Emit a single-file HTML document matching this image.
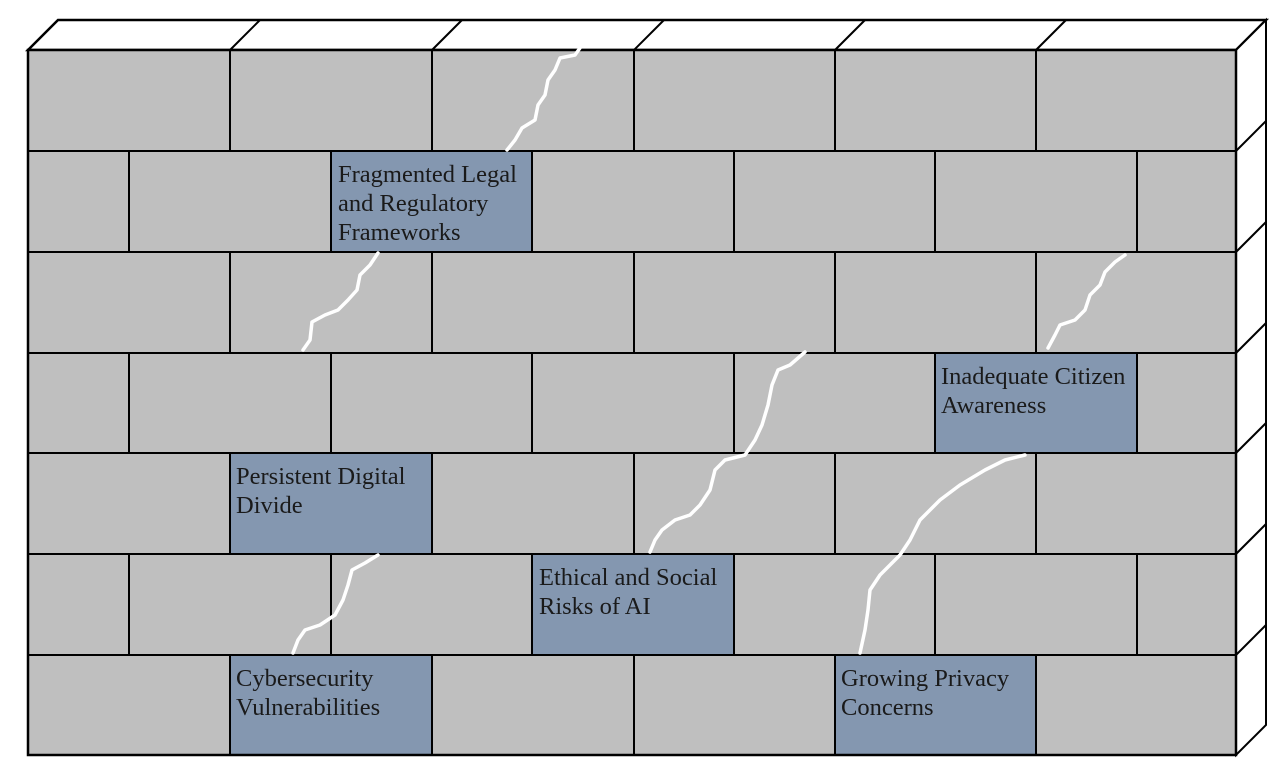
<!DOCTYPE html>
<html><head><meta charset="utf-8"><style>
html,body{margin:0;padding:0;background:#fff;}
svg{display:block;}
text{font-family:"Liberation Serif",serif;font-size:24.5px;fill:#1a1a1a;}
</style></head><body>
<svg width="1287" height="774" viewBox="0 0 1287 774" xmlns="http://www.w3.org/2000/svg">
<polygon points="28,50 58,20 1266,20 1236,50" fill="#fff" stroke="#000" stroke-width="2.5"/>
<g stroke="#000" stroke-width="2">
<line x1="230" y1="50" x2="260" y2="20"/><line x1="432" y1="50" x2="462" y2="20"/>
<line x1="634" y1="50" x2="664" y2="20"/><line x1="835" y1="50" x2="865" y2="20"/>
<line x1="1036" y1="50" x2="1066" y2="20"/>
</g>
<polygon points="1236,50 1266,20 1266,725 1236,755" fill="#fff" stroke="#000" stroke-width="2"/>
<g stroke="#000" stroke-width="2">
<line x1="1236" y1="151" x2="1266" y2="121"/><line x1="1236" y1="252" x2="1266" y2="222"/>
<line x1="1236" y1="353" x2="1266" y2="323"/><line x1="1236" y1="453" x2="1266" y2="423"/>
<line x1="1236" y1="554" x2="1266" y2="524"/><line x1="1236" y1="655" x2="1266" y2="625"/>
</g>
<rect x="28" y="50" width="1208" height="705" fill="#bfbfbf"/>
<g fill="#8497b0">
<rect x="331" y="151" width="201" height="101"/>
<rect x="935" y="353" width="202" height="100"/>
<rect x="230" y="453" width="202" height="101"/>
<rect x="532" y="554" width="202" height="101"/>
<rect x="230" y="655" width="202" height="100"/>
<rect x="835" y="655" width="201" height="100"/>
</g>
<g stroke="#000" stroke-width="2" fill="none">
<rect x="28" y="50" width="1208" height="705" stroke-width="2.5"/>
<line x1="28" y1="151" x2="1236" y2="151"/><line x1="28" y1="252" x2="1236" y2="252"/>
<line x1="28" y1="353" x2="1236" y2="353"/><line x1="28" y1="453" x2="1236" y2="453"/>
<line x1="28" y1="554" x2="1236" y2="554"/><line x1="28" y1="655" x2="1236" y2="655"/>
<path d="M230 50V151M432 50V151M634 50V151M835 50V151M1036 50V151"/>
<path d="M230 252V353M432 252V353M634 252V353M835 252V353M1036 252V353"/>
<path d="M230 453V554M432 453V554M634 453V554M835 453V554M1036 453V554"/>
<path d="M230 655V755M432 655V755M634 655V755M835 655V755M1036 655V755"/>
<path d="M129 151V252M331 151V252M532 151V252M734 151V252M935 151V252M1137 151V252"/>
<path d="M129 353V453M331 353V453M532 353V453M734 353V453M935 353V453M1137 353V453"/>
<path d="M129 554V655M331 554V655M532 554V655M734 554V655M935 554V655M1137 554V655"/>
</g>
<g stroke="#fff" stroke-width="3.5" fill="none" stroke-linejoin="round" stroke-linecap="round">
<polyline points="580,48 575,55 560,58 555,70 548,80 545,95 538,105 535,120 522,128 515,140 507,150"/>
<polyline points="378,253 370,265 360,275 357,290 348,300 338,310 325,315 312,322 310,340 303,350"/>
<polyline points="1125,255 1115,262 1105,272 1100,285 1090,295 1085,310 1075,320 1060,325 1055,335 1048,348"/>
<polyline points="805,352 790,365 778,370 772,385 768,405 762,425 755,440 745,455 725,460 715,470 710,490 700,505 690,515 675,520 662,530 655,540 650,552"/>
<polyline points="1025,455 1005,460 985,470 960,485 940,500 920,520 910,540 900,555 890,565 880,575 870,590 868,610 865,630 860,653"/>
<polyline points="378,555 365,563 352,570 348,585 343,600 335,615 320,625 305,630 298,640 293,653"/>
</g>
<text x="338" y="182">Fragmented Legal</text>
<text x="338" y="211">and Regulatory</text>
<text x="338" y="240">Frameworks</text>
<text x="941" y="384">Inadequate Citizen</text>
<text x="941" y="413">Awareness</text>
<text x="236" y="484">Persistent Digital</text>
<text x="236" y="513">Divide</text>
<text x="539" y="585">Ethical and Social</text>
<text x="539" y="614">Risks of AI</text>
<text x="236" y="686">Cybersecurity</text>
<text x="236" y="715">Vulnerabilities</text>
<text x="841" y="686">Growing Privacy</text>
<text x="841" y="715">Concerns</text>
</svg>
</body></html>
